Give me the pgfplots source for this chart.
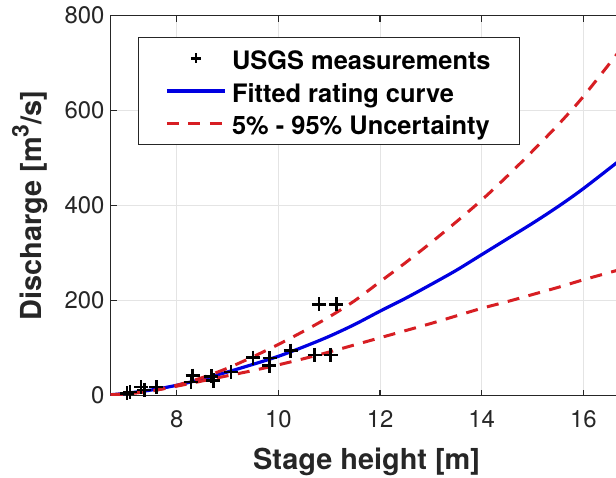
\documentclass[border=0pt]{standalone}
\usepackage{pgfplots}
\pgfplotsset{compat=1.18}
\usepackage{fontspec}
\setmainfont{TeX Gyre Heros}
\definecolor{axgray}{RGB}{38,38,38}
\definecolor{gridgray}{RGB}{228,228,228}
\definecolor{mblue}{RGB}{0,0,225}
\definecolor{mred}{RGB}{215,30,35}
\begin{document}
\begin{tikzpicture}
\begin{axis}[
  at={(110.7bp,82.3bp)}, anchor=south west,
  scale only axis, width=511.8bp, height=380bp,
  xmin=6.7, xmax=16.77, ymin=0, ymax=800,
  xtick={8,10,12,14,16}, ytick={0,200,400,600,800},
  grid=major, major grid style={gridgray, line width=0.9bp},
  axis line style={axgray, line width=1.2bp},
  tick style={axgray, line width=1.2bp},
  tick align=inside, major tick length=6bp,
  /pgf/number format/assume math mode=true,
  ticklabel style={font=\fontsize{24}{28}\selectfont, text=axgray},
  xticklabel style={yshift=-11bp},
  yticklabel style={xshift=-2.7bp},
  xlabel={Stage height [m]},
  ylabel={Discharge [m\raisebox{0.45em}{\fontsize{23}{26}\selectfont 3}/s]},
  label style={font=\fontsize{29}{34}\selectfont\bfseries, text=axgray},
  xlabel style={at={([yshift=-73.6bp]axis description cs:0.5,0)}, anchor=base},
  ylabel style={at={([xshift=-69bp]axis description cs:0,0.5)}, anchor=base, rotate=0},
  legend cell align=left,
  legend image code/.code={\draw[mark repeat=2,mark phase=2,#1] plot coordinates {(0bp,0bp) (29bp,0bp) (58bp,0bp)};},
  legend style={at={(axis description cs:0.0528,0.943)}, anchor=north west,
    draw=axgray, line width=1bp, fill=white,
    font=\fontsize{25.5}{30}\selectfont\bfseries,
    inner xsep=27bp, inner ysep=6bp,
    /tikz/row sep=3.7bp, /tikz/column sep=3.7bp,
    nodes={inner sep=2bp}},
]
\addplot[only marks, mark=+, mark size=5bp, line width=2.4bp, black] coordinates {
(7.02,5) (7.08,8) (7.30,18) (7.36,12) (7.60,18) (8.28,29) (8.31,42)
(8.68,41) (8.72,32) (9.07,50) (9.50,80) (9.83,79) (9.82,63) (10.24,95)
(10.71,86) (11.03,86) (10.80,192) (11.14,192)};
\addlegendentry{\rule[-5.5bp]{0pt}{29bp}USGS measurements}
\addplot[mblue, line width=3.2bp, smooth] coordinates {
(6.7,2) (7.0,5) (7.5,12) (8.0,22) (8.5,35) (9.0,50) (9.5,66) (10.0,83)
(10.5,103) (11.0,125) (11.5,150) (12.0,178) (12.5,205) (13.0,234) (13.5,264)
(14.0,297) (14.5,330) (15.0,363) (15.5,398) (16.0,436) (16.77,500)};
\addlegendentry{\rule[-5.5bp]{0pt}{29bp}Fitted rating curve}
\addplot[mred, line width=3bp, dash pattern=on 12bp off 9.5bp, smooth] coordinates {
(6.7,2) (7.0,4) (7.5,10) (8.0,22) (8.5,38) (9.0,58) (9.5,82) (10.0,108)
(10.5,136) (11.0,166) (11.5,200) (12.0,240) (12.5,280) (13.0,322) (13.5,366)
(14.0,412) (14.5,462) (15.0,515) (15.5,570) (16.0,630) (16.77,734)};
\addlegendentry{\rule[-5.5bp]{0pt}{29bp}5\% - 95\% Uncertainty}
\addplot[mred, line width=3bp, dash pattern=on 12bp off 9.5bp, smooth, forget plot] coordinates {
(6.7,2) (7.0,4) (7.5,10) (8.0,20) (8.5,31) (9.0,42) (9.5,53) (10.0,65)
(10.5,78) (11.0,92) (11.5,107) (12.0,122) (12.5,137) (13.0,152) (13.5,168)
(14.0,184) (14.5,198) (15.0,213) (15.5,228) (16.0,244) (16.77,267)};
\addplot[only marks, mark=+, mark size=7bp, line width=2.6bp, black, forget plot] coordinates {
(7.02,5) (7.08,8) (7.30,18) (7.36,12) (7.60,18) (8.28,29) (8.31,42)
(8.68,41) (8.72,32) (9.07,50) (9.50,80) (9.83,79) (9.82,63) (10.24,95)
(10.71,86) (11.03,86) (10.80,192) (11.14,192)};
\end{axis}
\pgfresetboundingbox
\useasboundingbox (0,0) rectangle (616bp,478bp);
\end{tikzpicture}
\end{document}
